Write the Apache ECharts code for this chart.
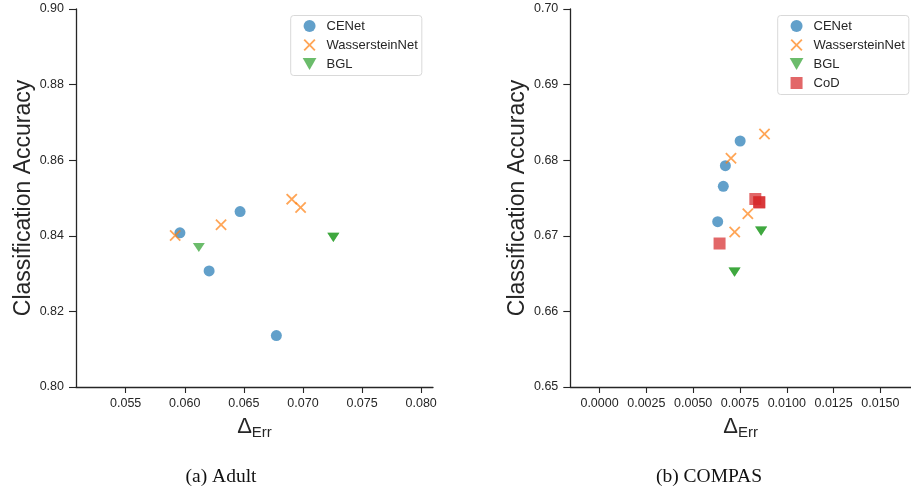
<!DOCTYPE html>
<html>
<head>
<meta charset="utf-8">
<script src="https://cdn.jsdelivr.net/npm/echarts@6/dist/echarts.min.js"></script>
<style>
  html, body { margin: 0; padding: 0; background: #fff; }
  #chart { width: 911px; height: 490px; }
</style>
</head>
<body>
<div id="chart"></div>
<script>
// ---- Adult: [ΔErr, accuracy] ----
const adultCENet = [[0.05959, 0.8408], [0.06468, 0.8464], [0.06206, 0.8307], [0.06775, 0.8136]];
const adultWasserstein = [[0.05919, 0.8401], [0.06307, 0.8429], [0.06905, 0.8497], [0.06980, 0.8475]];
const adultBGL = [[0.06119, 0.8369], [0.07257, 0.8396], [0.07257, 0.8396]];

// ---- COMPAS: [ΔErr, accuracy] ----
const compasCENet = [[0.00751, 0.68254], [0.00672, 0.67927], [0.00661, 0.67655], [0.00631, 0.67187]];
const compasWasserstein = [[0.00881, 0.68347], [0.00702, 0.68025], [0.00792, 0.67292], [0.00722, 0.67050]];
const compasBGL = [[0.00863, 0.67063], [0.00863, 0.67063], [0.00721, 0.66519], [0.00721, 0.66519]];
const compasCoD = [[0.00832, 0.67487], [0.00853, 0.67443], [0.00853, 0.67443], [0.00641, 0.66898]];

// ---- tick values ----
const adultXTicks = [0.055, 0.060, 0.065, 0.070, 0.075, 0.080];
const adultYTicks = [0.80, 0.82, 0.84, 0.86, 0.88, 0.90];
const compasXTicks = [0.0000, 0.0025, 0.0050, 0.0075, 0.0100, 0.0125, 0.0150];
const compasYTicks = [0.65, 0.66, 0.67, 0.68, 0.69, 0.70];

const methodNames = ['CENet', 'WassersteinNet', 'BGL', 'CoD'];
const colors = { CENet: '#1f77b4', WassersteinNet: '#ff7f0e', BGL: '#2ca02c', CoD: '#d62728' };

const FONT = '"Liberation Sans", Arial, sans-serif';
const SERIF = '"Liberation Serif", "Times New Roman", serif';
const INK = '#262626';

// thin diagonal cross drawn as a filled outline
const CROSS = 'path://M0,1.1L1.1,0L5,3.9L8.9,0L10,1.1L6.1,5L10,8.9L8.9,10L5,6.1L1.1,10L0,8.9L3.9,5Z';
const TRI_DOWN = 'path://M0,0L12,0L6,10.5Z';
const SQUARE = 'path://M0,0L10,0L10,10L0,10Z';

const symbols = {
  CENet: { symbol: 'circle', size: 11 },
  WassersteinNet: { symbol: CROSS, size: 11.5 },
  BGL: { symbol: TRI_DOWN, size: [12, 10.5] },
  CoD: { symbol: SQUARE, size: 12 }
};

function scatter(name, data, idx) {
  return {
    type: 'scatter',
    name: name,
    xAxisIndex: idx,
    yAxisIndex: idx,
    data: data,
    symbol: symbols[name].symbol,
    symbolSize: symbols[name].size,
    symbolKeepAspect: true,
    itemStyle: { color: colors[name], opacity: 0.7 },
    emphasis: { disabled: true },
    animation: false
  };
}

function xAxis(idx, min, max, ticks, digits) {
  return {
    type: 'value', gridIndex: idx, min: min, max: max,
    name: '{d|Δ}{s|Err}',
    nameLocation: 'middle',
    nameGap: 25,
    nameTextStyle: {
      rich: {
        d: { fontFamily: FONT, fontSize: 22, color: INK, lineHeight: 24 },
        s: { fontFamily: FONT, fontSize: 15, color: INK, padding: [10, 0, 0, 0], lineHeight: 24 }
      }
    },
    axisLine: { show: true, onZero: false, lineStyle: { color: INK, width: 1.3 } },
    axisTick: { show: true, length: 6, customValues: ticks, lineStyle: { color: INK, width: 1.1 } },
    axisLabel: {
      customValues: ticks, margin: 10, color: INK, fontFamily: FONT, fontSize: 12.5,
      formatter: v => v.toFixed(digits)
    },
    splitLine: { show: false }
  };
}

function yAxis(idx, min, max, ticks) {
  return {
    type: 'value', gridIndex: idx, min: min, max: max,
    name: 'Classification Accuracy',
    nameLocation: 'middle',
    nameGap: 41,
    nameTextStyle: { fontFamily: FONT, fontSize: 23, color: INK },
    axisLine: { show: true, onZero: false, lineStyle: { color: INK, width: 1.3 } },
    axisTick: { show: true, length: 7, customValues: ticks, lineStyle: { color: INK, width: 1.1 } },
    axisLabel: {
      customValues: ticks, margin: 12, color: INK, fontFamily: FONT, fontSize: 12.5,
      formatter: v => v.toFixed(2)
    },
    splitLine: { show: false }
  };
}

function legend(left, names) {
  return {
    left: left, top: 15.5,
    orient: 'vertical',
    data: names,
    itemWidth: 24, itemHeight: 12, itemGap: 6,
    padding: [4, 4, 5, 12],
    borderColor: '#d9d9d9', borderWidth: 1, borderRadius: 3,
    backgroundColor: '#ffffff',
    textStyle: { fontFamily: FONT, fontSize: 13, color: INK },
    selectedMode: false
  };
}

const chart = echarts.init(document.getElementById('chart'), null, { renderer: 'canvas' });

chart.setOption({
  backgroundColor: '#ffffff',
  animation: false,
  grid: [
    { left: 76, top: 9, width: 357, height: 378 },
    { left: 570.3, top: 9, width: 349.4, height: 378 }
  ],
  xAxis: [
    xAxis(0, 0.0508, 0.0810, adultXTicks, 3),
    xAxis(1, -0.0015625, 0.016635, compasXTicks, 4)
  ],
  yAxis: [
    yAxis(0, 0.80, 0.90, adultYTicks),
    yAxis(1, 0.65, 0.70, compasYTicks)
  ],
  legend: [
    legend(290.7, methodNames.slice(0, 3)),
    legend(777.7, methodNames)
  ],
  series: [
    scatter('CENet', adultCENet, 0),
    scatter('WassersteinNet', adultWasserstein, 0),
    scatter('BGL', adultBGL, 0),
    scatter('CENet', compasCENet, 1),
    scatter('WassersteinNet', compasWasserstein, 1),
    scatter('BGL', compasBGL, 1),
    scatter('CoD', compasCoD, 1)
  ],
  graphic: [
    {
      type: 'text', x: 221, y: 477, style: {
        text: '(a) Adult', fontFamily: SERIF, fontSize: 19.5, fill: '#111',
        align: 'center', verticalAlign: 'middle'
      }
    },
    {
      type: 'text', x: 709, y: 477, style: {
        text: '(b) COMPAS', fontFamily: SERIF, fontSize: 19.5, fill: '#111',
        align: 'center', verticalAlign: 'middle'
      }
    }
  ]
});
</script>
</body>
</html>
